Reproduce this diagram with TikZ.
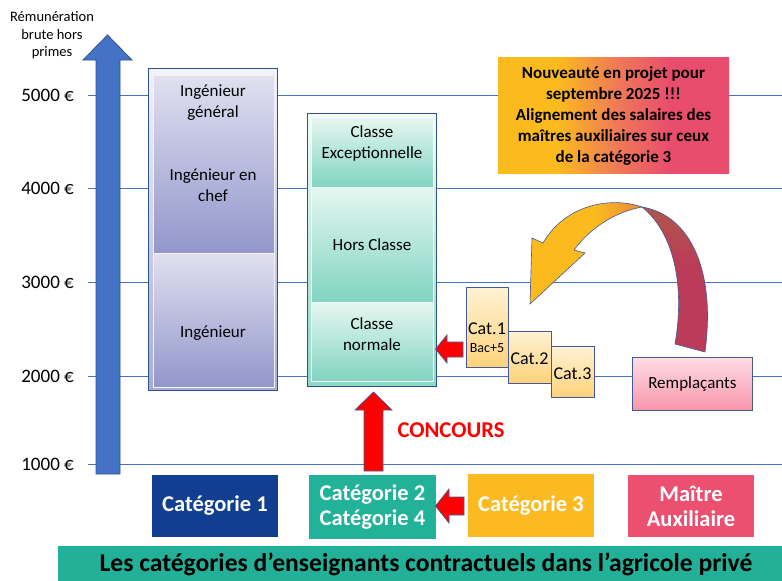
\documentclass[tikz,border=0pt]{standalone}
\usepackage{fontspec}
\setmainfont{Carlito}
\usetikzlibrary{calc}
\definecolor{gridc}{RGB}{68,114,196}
\definecolor{axisc}{RGB}{68,114,196}
\definecolor{axisd}{RGB}{47,82,143}
\definecolor{ingT}{RGB}{224,224,240}
\definecolor{ingB}{RGB}{146,150,202}
\definecolor{clT}{RGB}{230,247,241}
\definecolor{clB}{RGB}{128,212,192}
\definecolor{catT}{RGB}{255,242,212}
\definecolor{catB}{RGB}{255,210,122}
\definecolor{remT}{RGB}{255,220,230}
\definecolor{remB}{RGB}{249,150,172}
\definecolor{bordc}{RGB}{68,90,150}
\definecolor{nOr}{RGB}{251,186,30}
\definecolor{nMid}{RGB}{240,125,85}
\definecolor{nPk}{RGB}{233,77,110}
\definecolor{cA}{RGB}{16,62,145}
\definecolor{cB}{RGB}{34,178,153}
\definecolor{cC}{RGB}{251,186,33}
\definecolor{cM}{RGB}{235,80,112}
\definecolor{bannerc}{RGB}{34,177,152}
\definecolor{arrOr}{RGB}{251,186,30}
\definecolor{arrOrD}{RGB}{236,136,62}
\definecolor{arrRd}{RGB}{186,60,88}
\definecolor{arrBr}{RGB}{176,86,74}
\definecolor{redc}{RGB}{255,0,0}
\pgfdeclarehorizontalshading{nouvshade}{100bp}{color(0bp)=(nOr); color(38bp)=(nOr); color(50bp)=(nMid); color(62bp)=(nPk); color(100bp)=(nPk)}
\pgfdeclarehorizontalshading{orshade}{100bp}{color(0bp)=(arrOr); color(54bp)=(arrOr); color(75bp)=(arrOrD); color(100bp)=(arrOrD)}
\pgfdeclareverticalshading{rdshade}{100bp}{color(0bp)=(arrRd); color(55bp)=(arrRd); color(75bp)=(arrBr); color(100bp)=(arrBr)}
\begin{document}
\begin{tikzpicture}[x=1pt,y=1pt,
  lbl/.style={font=\fontsize{17}{21}\selectfont, align=center, inner sep=0pt},
  ylab/.style={font=\fontsize{19}{21}\selectfont, anchor=east, inner sep=0pt},
  gridl/.style={draw=gridc, line width=0.8pt},
  box/.style={rectangle, inner sep=0pt, anchor=north west},
  sect/.style={box, draw=white!60!ingT, line width=0.8pt},
  csect/.style={box, draw=white!60!clT, line width=0.8pt, top color=clT, bottom color=clB},
  catbox/.style={box, draw=bordc, line width=0.8pt, top color=catT, bottom color=catB},
  bottombox/.style={rectangle, inner sep=0pt, text=white, align=center, font=\bfseries\fontsize{22.5}{25}\selectfont},
  redarrow/.style={fill=redc, draw=bordc, line width=0.7pt},
]
\useasboundingbox[fill=white] (0,0) rectangle (782,-581);

% axis title
\node[font=\fontsize{14.5}{17.5}\selectfont, align=center, inner sep=0pt] (ytitle) at (52,-35.5) {Rémunération\\brute hors\\primes};

% y labels and grid lines
\node[ylab] (l5000) at (74,-95) {5000 €};
\node[ylab] (l4000) at (74,-188) {4000 €};
\node[ylab] (l3000) at (74,-282) {3000 €};
\node[ylab] (l2000) at (74,-376) {2000 €};
\node[ylab] (l1000) at (74,-464) {1000 €};
\foreach \n in {5000,4000,3000,2000,1000}{
  \draw[gridl] ([xshift=14pt]l\n.east) -- ++(700,0);
}

% vertical axis arrow
\draw[fill=axisc, draw=axisd, line width=0.8pt] (96,-474) -- (96,-60) -- (83,-60) -- (107.5,-35) -- (132,-60) -- (120,-60) -- (120,-474) -- cycle;

% Ingenieur column
\node[box, draw=axisd, line width=0.9pt, top color=white!60!ingT, bottom color=white!20!ingB, minimum width=129, minimum height=322] (ingbox) at (148,-68) {};
\node[sect, top color=ingT, bottom color=ingB, minimum width=121, minimum height=178] (ingtop) at (153,-75) {};
\node[sect, top color=ingT, bottom color=ingB, minimum width=121, minimum height=134] (ingbot) at (153,-253) {};
\node[lbl] (ig) at (213,-103) {Ingénieur\\général};
\node[lbl] (ic) at (213,-185.5) {Ingénieur en\\chef};
\node[lbl] (ii) at (213,-333) {Ingénieur};

% Classe column
\node[box, draw=axisd, line width=0.9pt, top color=white!50!clT, bottom color=white!10!clB, minimum width=129, minimum height=273] (clbox) at (307,-113) {};
\node[csect, minimum width=122, minimum height=70] (clexc) at (311,-117) {};
\node[csect, minimum width=122, minimum height=115] (clhors) at (311,-187) {};
\node[csect, minimum width=122, minimum height=79] (clnorm) at (311,-302) {};
\node[lbl] (tce) at (372,-143) {Classe\\Exceptionnelle};
\node[lbl] (thc) at (372,-245) {Hors Classe};
\node[lbl] (tcn) at (372,-334) {Classe\\normale};

% Cat boxes
\node[catbox, minimum width=42, minimum height=80] (cat1) at (466,-287) {};
\node[catbox, minimum width=43, minimum height=52] (cat2) at (508,-331) {};
\node[catbox, minimum width=43, minimum height=51] (cat3) at (551,-346) {};
\node[font=\fontsize{18}{20}\selectfont, inner sep=0pt] (tcat1) at (487,-329) {Cat.1};
\node[font=\fontsize{14}{16}\selectfont, inner sep=0pt] (tbac) at (487,-348) {Bac+5};
\node[font=\fontsize{18}{20}\selectfont, inner sep=0pt] (tcat2) at (529.5,-359) {Cat.2};
\node[font=\fontsize{18}{20}\selectfont, inner sep=0pt] (tcat3) at (572.5,-374) {Cat.3};

% red arrow cat.1 -> classe normale
\draw[redarrow] (463,-342) -- (447,-342) -- (447,-335) -- (435.5,-349) -- (447,-363) -- (447,-357) -- (463,-357) -- cycle;

% Remplacants
\node[box, draw=bordc, line width=0.8pt, top color=remT, bottom color=remB, minimum width=120, minimum height=53] (remp) at (632,-357) {};
\node[lbl] (tremp) at (remp.center) {Remplaçants};

% Nouveaute box
\node[box, shading=nouvshade, minimum width=231, minimum height=116] (nouv) at (498,-57) {};
\node[lbl, font=\bfseries\fontsize{17}{21}\selectfont] (tnouv) at (613.5,-116) {Nouveauté en projet pour\\septembre 2025 !!!\\Alignement des salaires des\\maîtres auxiliaires sur ceux\\de la catégorie 3};

% curved arrow (red back part then orange front part)
\path[shading=rdshade, draw=bordc, line width=0.6pt] (642,-207) .. controls (690,-215) and (716,-270) .. (705,-352) -- (675,-344) .. controls (686,-280) and (671,-230) .. (642,-207) -- cycle;
\path[shading=orshade, draw=bordc, line width=0.6pt] (642,-207) .. controls (610,-196) and (565,-205) .. (543,-243) -- (532,-238) -- (530,-304) -- (585,-253) -- (574,-250) .. controls (590,-228) and (615,-212) .. (642,-207) -- cycle;

% concours arrow
\draw[redarrow] (364,-471) -- (364,-410) -- (355,-410) -- (373.5,-392) -- (392,-410) -- (383,-410) -- (383,-471) -- cycle;
\node[font=\bfseries\fontsize{22.6}{24}\selectfont, text=redc, inner sep=0pt] (conc) at (451,-430) {CONCOURS};

% bottom category boxes
\node[bottombox, fill=cA, minimum width=126, minimum height=62] (bc1) at (215,-506) {Catégorie 1};
\node[bottombox, fill=cB, minimum width=127, minimum height=64] (bc24) at (372.5,-507) {Catégorie 2\\Catégorie 4};
\node[bottombox, fill=cC, minimum width=126, minimum height=63] (bc3) at (531,-505.5) {Catégorie 3};
\node[bottombox, fill=cM, minimum width=126, minimum height=62] (bma) at (691,-506) {Maître\\Auxiliaire};

% red arrow cat3 -> cat2/4
\draw[redarrow] (464,-497) -- (449,-497) -- (449,-489) -- (435.5,-506) -- (449,-523) -- (449,-515) -- (464,-515) -- cycle;

% banner
\fill[bannerc] (58,-546) rectangle (782,-581);
\node[font=\bfseries\fontsize{25.6}{28}\selectfont, inner sep=0pt] (ban) at (426,-564) {Les catégories d’enseignants contractuels dans l’agricole privé};
\end{tikzpicture}
\end{document}
